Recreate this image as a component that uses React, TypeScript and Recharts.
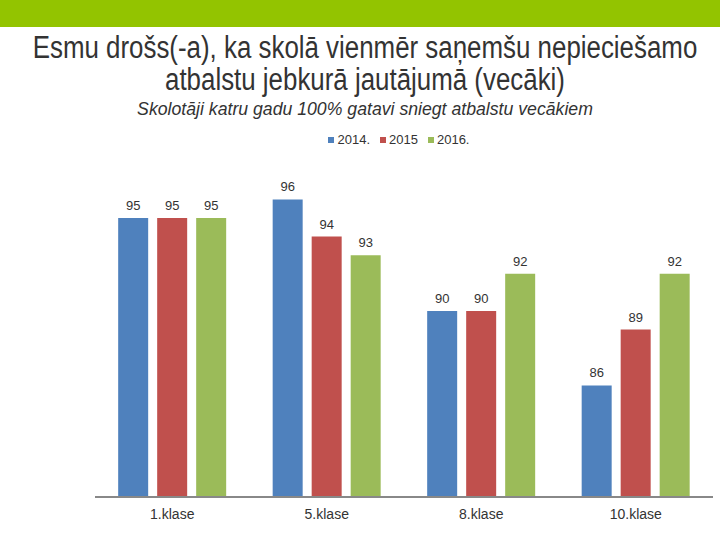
import { Bar, BarChart, LabelList, XAxis, YAxis } from "recharts";

const klases = ["1.klase", "5.klase", "8.klase", "10.klase"];
const gadi = ["2014.", "2015", "2016."];
const v2014 = [95, 96, 90, 86];
const v2015 = [95, 94, 90, 89];
const v2016 = [95, 93, 92, 92];
const krasas = ["#4F81BD", "#C0504D", "#9BBB59"];

const dati = klases.map((k, i) => ({
	klase: k,
	a: v2014[i],
	b: v2015[i],
	c: v2016[i],
}));
const keys = ["a", "b", "c"];

const fonts = '"Liberation Sans", Arial, sans-serif';

const Saspiests = ({ children, top, size, scale, italic }: any) => (
	<div
		style={{
			position: "absolute",
			top,
			left: -200,
			width: 1130,
			textAlign: "center",
			whiteSpace: "nowrap",
			fontSize: size,
			lineHeight: "32px",
			fontStyle: italic ? "italic" : "normal",
			transform: `scaleX(${scale})`,
			transformOrigin: "565px 0",
		}}
	>
		{children}
	</div>
);

const App = () => {
	return (
		<div
			style={{
				position: "absolute",
				left: 0,
				top: 0,
				width: 720,
				height: 540,
				background: "#fff",
				fontFamily: fonts,
				color: "#333",
				overflow: "hidden",
			}}
		>
			<div style={{ position: "absolute", left: 0, top: 0, width: 720, height: 27, background: "#93C400" }} />
			<Saspiests top={32} size={31} scale={0.835}>
				Esmu drošs(-a), ka skolā vienmēr saņemšu nepieciešamo
				<br />
				atbalstu jebkurā jautājumā (vecāki)
			</Saspiests>
			<Saspiests top={93} size={19} scale={0.93} italic>
				Skolotāji katru gadu 100% gatavi sniegt atbalstu vecākiem
			</Saspiests>
			<div
				style={{
					position: "absolute",
					top: 132,
					left: 95,
					width: 618,
					display: "flex",
					justifyContent: "center",
					fontSize: 13,
					lineHeight: "16px",
				}}
			>
				{gadi.map((g, i) => (
					<span key={g} style={{ display: "flex", alignItems: "center", marginRight: 10 }}>
						<span style={{ width: 6, height: 6, background: krasas[i], marginRight: 3 }} />
						{g}
					</span>
				))}
			</div>
			<BarChart
				width={720}
				height={540}
				data={dati}
				margin={{ top: 125, right: 7, left: 95, bottom: 13 }}
				barCategoryGap="15%"
				barGap={9}
			>
				<XAxis
					dataKey="klase"
					axisLine={{ stroke: "#888", strokeWidth: 2 }}
					tickLine={false}
					tick={{ fill: "#333", fontSize: 14, fontFamily: fonts }}
					dy={4}
				/>
				<YAxis hide domain={[80, 100]} />
				{keys.map((k, i) => (
					<Bar key={k} dataKey={k} name={gadi[i]} fill={krasas[i]} isAnimationActive={false}>
						<LabelList
							dataKey={k}
							position="top"
							offset={8}
							fill="#333"
							fontSize={13}
							fontFamily={fonts}
						/>
					</Bar>
				))}
			</BarChart>
		</div>
	);
};

export default App;
